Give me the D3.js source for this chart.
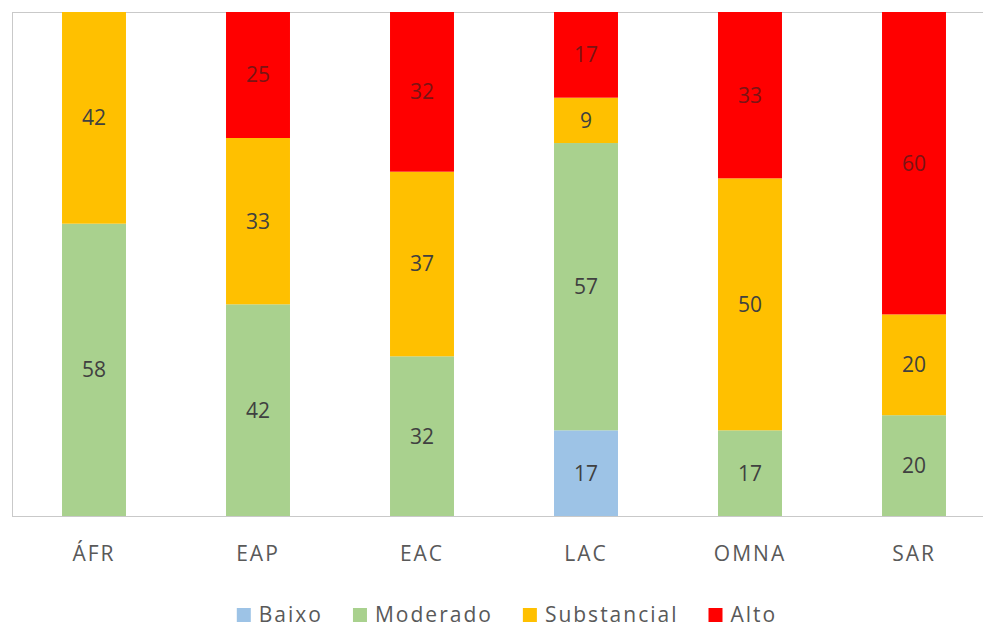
<!DOCTYPE html>
<html>
<head>
<meta charset="utf-8">
<script src="https://cdn.jsdelivr.net/npm/d3@7"></script>
<style>
  body { margin: 0; background: #fff; }
  text { font-family: "Open Sans", "Noto Sans", sans-serif; }
</style>
</head>
<body>
<div id="chart"></div>
<script>
// Data
const regions = ["ÁFR", "EAP", "EAC", "LAC", "OMNA", "SAR"];
const series = ["Baixo", "Moderado", "Substancial", "Alto"];
const baixo       = [0, 0, 0, 17, 0, 0];
const moderado    = [58, 42, 32, 57, 17, 20];
const substancial = [42, 33, 37, 9, 50, 20];
const alto        = [0, 25, 32, 17, 33, 60];
const colors = ["#9DC3E6", "#A9D18E", "#FFC000", "#FF0000"];

const width = 983, height = 628;
const margin = {top: 12, right: -13, bottom: 112, left: 12};

const svg = d3.select("#chart")
  .append("svg")
    .attr("width", width)
    .attr("height", height);

const rows = regions.map((r, i) => ({
  region: r,
  Baixo: baixo[i],
  Moderado: moderado[i],
  Substancial: substancial[i],
  Alto: alto[i]
}));

const stacked = d3.stack().keys(series).offset(d3.stackOffsetExpand)(rows);

const x = d3.scaleBand()
  .domain(regions)
  .range([margin.left, width - margin.right])
  .paddingInner(0.61)
  .paddingOuter(0.305);

const y = d3.scaleLinear()
  .domain([0, 1])
  .range([height - margin.bottom, margin.top]);

const color = d3.scaleOrdinal().domain(series).range(colors);

// plot border lines (left, top)
const g = svg.append("g");
g.append("line")
  .attr("x1", margin.left + 0.5).attr("x2", margin.left + 0.5)
  .attr("y1", y(1)).attr("y2", y(0))
  .attr("stroke", "#c9c9c9");
g.append("line")
  .attr("x1", margin.left).attr("x2", width)
  .attr("y1", y(1) + 0.5).attr("y2", y(1) + 0.5)
  .attr("stroke", "#c9c9c9");

// bars
const layers = svg.selectAll(".layer")
  .data(stacked)
  .join("g")
    .attr("class", "layer")
    .attr("fill", d => color(d.key));

layers.selectAll("rect")
  .data(d => d)
  .join("rect")
    .attr("x", d => x(d.data.region))
    .attr("y", d => y(d[1]))
    .attr("width", x.bandwidth())
    .attr("height", d => y(d[0]) - y(d[1]));

// value labels
layers.selectAll("text")
  .data(d => d.map(v => ({v, key: d.key})).filter(o => o.v.data[o.key] > 0))
  .join("text")
    .attr("x", o => x(o.v.data.region) + x.bandwidth() / 2)
    .attr("y", o => (y(o.v[0]) + y(o.v[1])) / 2)
    .attr("dy", "0.35em")
    .attr("text-anchor", "middle")
    .attr("fill", o => o.key === "Alto" ? "#7a1414" : "#404040")
    .attr("font-size", 21)
    .text(o => o.v.data[o.key]);

// x axis
const xAxis = svg.append("g")
  .attr("transform", `translate(0,${y(0)})`)
  .call(d3.axisBottom(x).tickSize(0).tickPadding(30));
xAxis.select(".domain").attr("stroke", "#c9c9c9").attr("d", `M${margin.left},0.5H${width}`);
xAxis.selectAll("text")
  .attr("font-size", 21)
  .attr("fill", "#595959")
  .attr("letter-spacing", "2px")
  .style("font-family", "\"Open Sans\", \"Noto Sans\", sans-serif");

// legend
const legend = svg.append("g").attr("transform", `translate(0,615)`);
const items = legend.selectAll("g")
  .data(series)
  .join("g");
items.append("rect")
  .attr("y", -7)
  .attr("width", 14)
  .attr("height", 14)
  .attr("fill", d => color(d));
items.append("text")
  .attr("x", 22)
  .attr("dy", "0.35em")
  .attr("font-size", 21)
  .attr("letter-spacing", "2px")
  .attr("fill", "#595959")
  .text(d => d);

let offset = 0;
const gap = 30;
const widths = [];
items.each(function() {
  widths.push(22 + d3.select(this).select("text").node().getComputedTextLength());
});
const total = d3.sum(widths) + gap * (widths.length - 1);
const start = 507 - total / 2;
items.attr("transform", (d, i) => {
  const t = `translate(${start + offset},0)`;
  offset += widths[i] + gap;
  return t;
});
</script>
</body>
</html>
